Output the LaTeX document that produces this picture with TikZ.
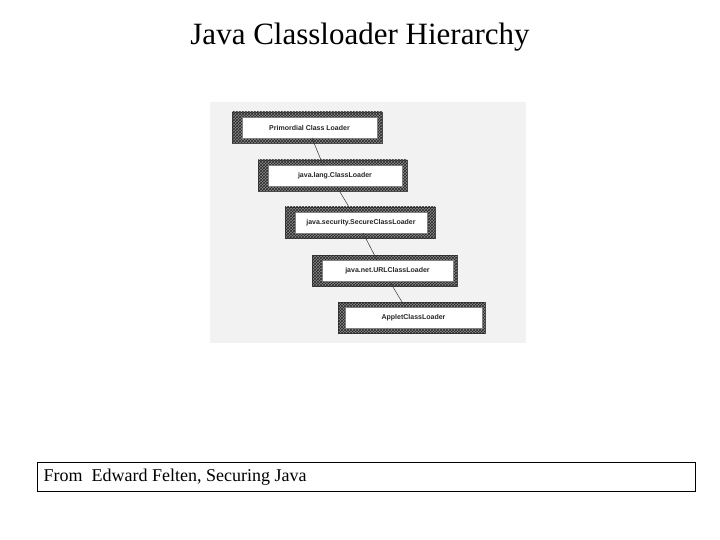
\documentclass[tikz,border=0pt]{standalone}
\usepackage{fontspec}
\setmainfont{Liberation Serif}
\newfontfamily\boxfont{Liberation Sans}
\usetikzlibrary{patterns}
\begin{document}
\begin{tikzpicture}[x=1pt,y=-1pt,
  hatchbg/.style={fill=black!45, draw=black!70, line width=0.8pt},
  hatch/.style={pattern=crosshatch, pattern color=black!85},
  inner/.style={fill=white, draw=black!50, line width=0.4pt},
  lbl/.style={font=\boxfont\fontsize{7}{8}\selectfont\bfseries, text=black!85},
  link/.style={draw=black!80, line width=0.5pt}]
\useasboundingbox (0,0) rectangle (720,540);
\fill[white] (0,0) rectangle (720,540);
\node[font=\fontsize{31}{34}\selectfont] (title) at (360,37) {Java Classloader Hierarchy};
\fill[black!5] (210,102) rectangle (526,343);
% boxes
\foreach \n/\ox/\oy/\ow/\ix/\iy/\iw/\t in {
 a/232/112/150/242/117/135/Primordial Class Loader,
 b/258/160/149/268/165/134/java.lang.ClassLoader,
 c/285/207/150/295/212/132/java.security.SecureClassLoader,
 d/312/255/145/322/260/131/java.net.URLClassLoader,
 e/338/302/147/345/307/137/AppletClassLoader}{
  \path[hatchbg] (\ox,\oy) rectangle ++(\ow,31);
  \path[hatch] (\ox,\oy) rectangle ++(\ow,31);
  \path[inner] (\ix,\iy) rectangle ++(\iw,21);
  \node[lbl] (\n) at (\ix+\iw/2,\iy+10.5) {\t};
}
\coordinate (a1) at (312,138); \coordinate (b0) at (323,165);
\coordinate (b1) at (337,187); \coordinate (c0) at (352,212);
\coordinate (c1) at (363,233); \coordinate (d0) at (377,260);
\coordinate (d1) at (390,282); \coordinate (e0) at (405,307);
\draw[link] (a1) -- (b0);
\draw[link] (b1) -- (c0);
\draw[link] (c1) -- (d0);
\draw[link] (d1) -- (e0);
\node[draw, line width=0.8pt, minimum width=658pt, minimum height=29pt, anchor=north west] (cap) at (37,462) {};
\node[anchor=west, font=\fontsize{18}{20}\selectfont] (captext) at (40,477) {From\ \ Edward Felten, Securing Java};
\end{tikzpicture}
\end{document}
